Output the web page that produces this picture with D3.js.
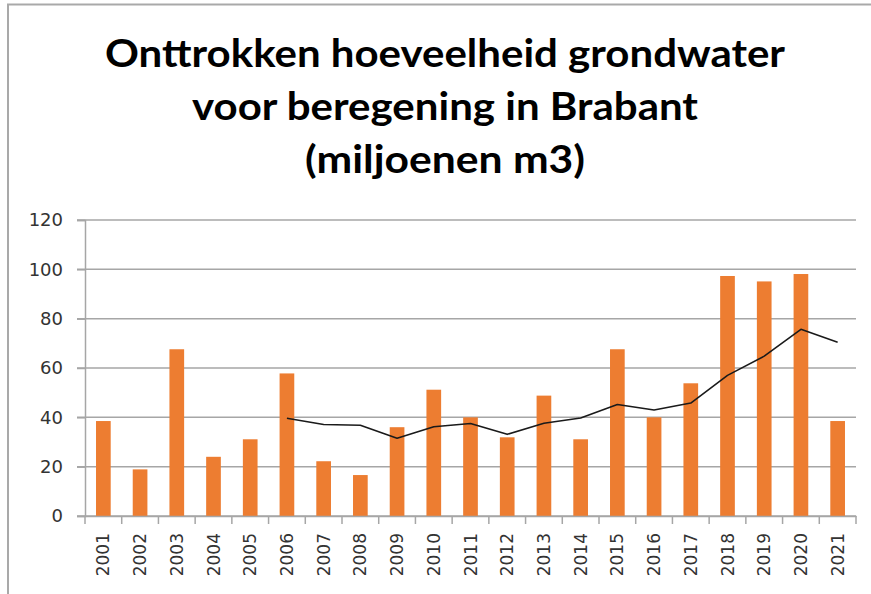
<!DOCTYPE html>
<html>
<head>
<meta charset="utf-8">
<script src="https://cdn.jsdelivr.net/npm/d3@7"></script>
<style>
  html, body { margin: 0; padding: 0; background: #fff; }
  svg { display: block; }
</style>
</head>
<body>
<svg id="chart" width="871" height="594"></svg>
<script>
// Years on the category axis
const years = ["2001","2002","2003","2004","2005","2006","2007","2008","2009","2010","2011",
               "2012","2013","2014","2015","2016","2017","2018","2019","2020","2021"];
// Groundwater withdrawn for irrigation (million m3)
const withdrawn = [38.5, 18.9, 67.6, 24.0, 31.1, 57.8, 22.2, 16.6, 36.0, 51.2, 40.0,
                   31.9, 48.8, 31.1, 67.6, 40.0, 53.8, 97.3, 95.1, 98.1, 38.5];
// Six-year moving average, shown from 2006 onward
const avgYears = ["2006","2007","2008","2009","2010","2011","2012","2013","2014","2015","2016",
                  "2017","2018","2019","2020","2021"];
const avgValues = [39.6, 37.1, 36.8, 31.5, 36.2, 37.5, 33.1, 37.6, 39.7, 45.2, 43.0,
                   45.8, 57.0, 64.8, 75.7, 70.4];
// Value axis ticks
const yTicks = [0, 20, 40, 60, 80, 100, 120];
// Title lines
const titleLines = ["Onttrokken hoeveelheid grondwater", "voor beregening in Brabant", "(miljoenen m3)"];

const svg = d3.select("#chart");
const gridColor = "#a6a6a6";

// Outer frame (top and left edges)
svg.append("path")
  .attr("d", "M8,594 L8,4.5 L871,4.5")
  .attr("fill", "none")
  .attr("stroke", "#a9a9a9")
  .attr("stroke-width", 2);

// Title
const titleY = [67, 120, 173];
const titleW = [680, 506, 280];
svg.append("g").selectAll("text")
  .data(titleLines)
  .join("text")
  .attr("x", 445)
  .attr("y", (d, i) => titleY[i])
  .attr("text-anchor", "middle")
  .attr("font-family", "Lato, 'Open Sans', sans-serif")
  .attr("font-weight", 700)
  .attr("font-size", 39)
  .attr("fill", "#000")
  .attr("textLength", (d, i) => titleW[i])
  .attr("lengthAdjust", "spacingAndGlyphs")
  .text(d => d);

// Plot area
const plotLeft = 85, plotRight = 856, plotTop = 220, plotBottom = 516;

const x = d3.scaleBand().domain(years).range([plotLeft, plotRight]).padding(0);
const y = d3.scaleLinear().domain([0, 120]).range([plotBottom, plotTop]);

// Horizontal gridlines
svg.append("g").selectAll("line")
  .data(yTicks)
  .join("line")
  .attr("x1", plotLeft - 8)
  .attr("x2", plotRight)
  .attr("y1", d => y(d))
  .attr("y2", d => y(d))
  .attr("stroke", gridColor)
  .attr("stroke-width", 1.5);

// Value axis
const yAxis = svg.append("g")
  .attr("transform", `translate(${plotLeft},0)`)
  .call(d3.axisLeft(y).tickValues(yTicks).tickSize(8).tickPadding(14));
yAxis.select(".domain").attr("stroke", gridColor).attr("stroke-width", 1.5);
yAxis.selectAll(".tick line").attr("stroke", gridColor).attr("stroke-width", 1.5);
yAxis.selectAll(".tick text")
  .attr("font-family", "'DejaVu Sans', Verdana, sans-serif")
  .attr("font-size", 18)
  .attr("fill", "#333");

// Bars
const barW = x.bandwidth() * 0.4;
svg.append("g").selectAll("rect")
  .data(years.map((yr, i) => ({ yr, v: withdrawn[i] })))
  .join("rect")
  .attr("x", d => x(d.yr) + (x.bandwidth() - barW) / 2)
  .attr("y", d => y(d.v))
  .attr("width", barW)
  .attr("height", d => y(0) - y(d.v))
  .attr("fill", "#ed7d31");

// Category axis
const xAxis = svg.append("g")
  .attr("transform", `translate(0,${plotBottom})`)
  .call(d3.axisBottom(x).tickSize(0).tickPadding(0));
xAxis.select(".domain").attr("stroke", gridColor).attr("stroke-width", 1.5);
xAxis.selectAll(".tick line").remove();
xAxis.selectAll(".tick text")
  .attr("font-family", "'DejaVu Sans', Verdana, sans-serif")
  .attr("font-size", 17)
  .attr("fill", "#333")
  .attr("text-anchor", "end")
  .attr("transform", "rotate(-90)")
  .attr("x", -17)
  .attr("y", 0)
  .attr("dy", "0.36em");

// Tick marks at category boundaries
const bounds = years.map(yr => x(yr)).concat([plotRight]);
svg.append("g").selectAll("line")
  .data(bounds)
  .join("line")
  .attr("x1", d => d)
  .attr("x2", d => d)
  .attr("y1", plotBottom)
  .attr("y2", plotBottom + 8)
  .attr("stroke", gridColor)
  .attr("stroke-width", 1.5);

// Moving-average line
const line = d3.line()
  .x(d => x(d.yr) + x.bandwidth() / 2)
  .y(d => y(d.v));
svg.append("path")
  .datum(avgYears.map((yr, i) => ({ yr, v: avgValues[i] })))
  .attr("d", line)
  .attr("fill", "none")
  .attr("stroke", "#1a1a1a")
  .attr("stroke-width", 1.6)
  .attr("stroke-linejoin", "round");
</script>
</body>
</html>
